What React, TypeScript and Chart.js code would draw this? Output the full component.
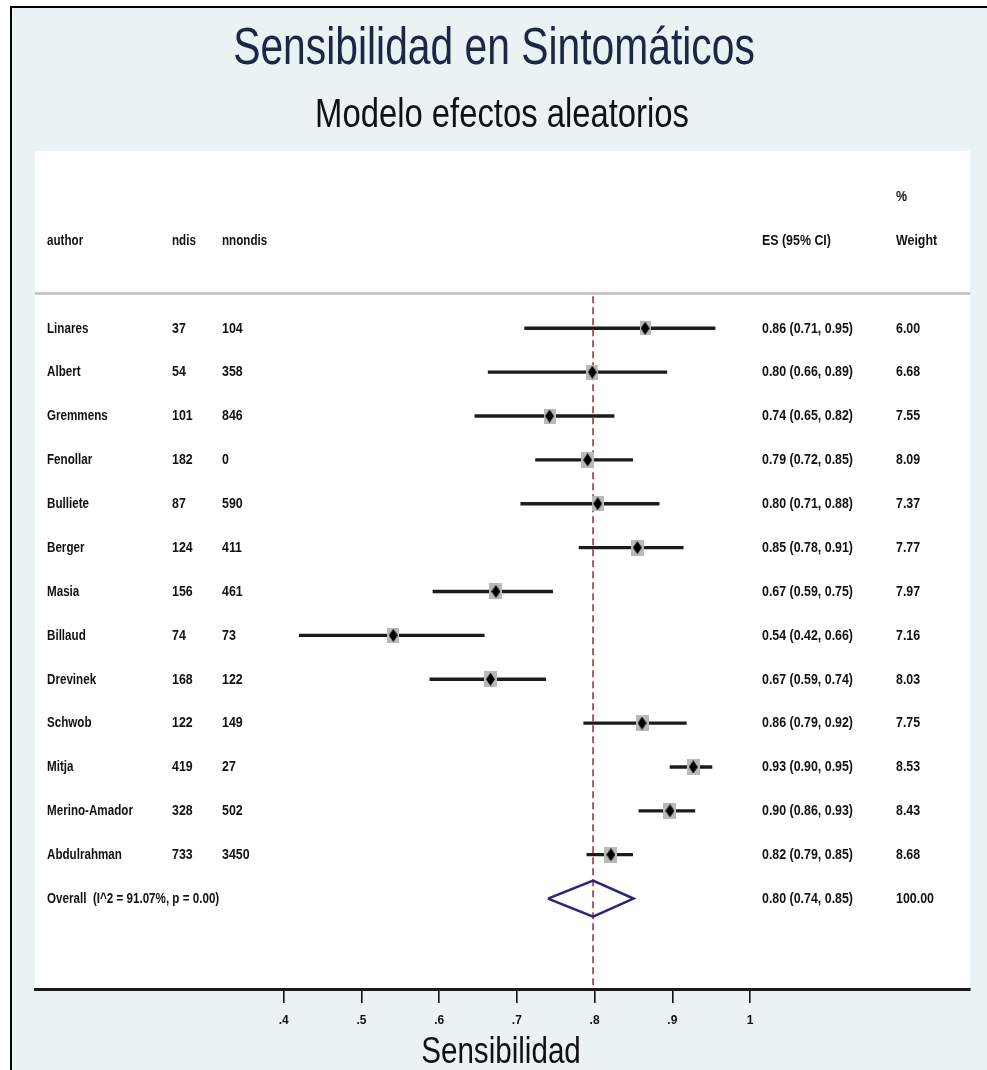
import React, { useEffect, useRef } from 'react';
import { Chart, registerables } from 'chart.js';

Chart.register(...registerables);

// ---------------- data ----------------
const authors = ['Linares', 'Albert', 'Gremmens', 'Fenollar', 'Bulliete', 'Berger', 'Masia', 'Billaud', 'Drevinek', 'Schwob', 'Mitja', 'Merino-Amador', 'Abdulrahman'];
const ndis = [37, 54, 101, 182, 87, 124, 156, 74, 168, 122, 419, 328, 733];
const nnondis = [104, 358, 846, 0, 590, 411, 461, 73, 122, 149, 27, 502, 3450];
const es = [0.865, 0.797, 0.742, 0.791, 0.804, 0.855, 0.673, 0.541, 0.666, 0.861, 0.927, 0.897, 0.821];
const ciLow = [0.71, 0.663, 0.646, 0.724, 0.705, 0.78, 0.592, 0.42, 0.588, 0.786, 0.897, 0.857, 0.79];
const ciHigh = [0.955, 0.893, 0.825, 0.849, 0.883, 0.914, 0.746, 0.658, 0.737, 0.918, 0.951, 0.929, 0.849];
const weights = [6.0, 6.68, 7.55, 8.09, 7.37, 7.77, 7.97, 7.16, 8.03, 7.75, 8.53, 8.43, 8.68];
const esText = ['0.86 (0.71, 0.95)', '0.80 (0.66, 0.89)', '0.74 (0.65, 0.82)', '0.79 (0.72, 0.85)', '0.80 (0.71, 0.88)', '0.85 (0.78, 0.91)', '0.67 (0.59, 0.75)', '0.54 (0.42, 0.66)', '0.67 (0.59, 0.74)', '0.86 (0.79, 0.92)', '0.93 (0.90, 0.95)', '0.90 (0.86, 0.93)', '0.82 (0.79, 0.85)'];
const weightText = ['6.00', '6.68', '7.55', '8.09', '7.37', '7.77', '7.97', '7.16', '8.03', '7.75', '8.53', '8.43', '8.68'];
const overallES = 0.798;
const overallLow = 0.74;
const overallHigh = 0.85;
const overallLabel = 'Overall  (I^2 = 91.07%, p = 0.00)';
const overallESText = '0.80 (0.74, 0.85)';
const overallWeightText = '100.00';
const xTicks = [0.4, 0.5, 0.6, 0.7, 0.8, 0.9, 1];
const xTickLabels = ['.4', '.5', '.6', '.7', '.8', '.9', '1'];
const headerLabels = ['author', 'ndis', 'nnondis', 'ES (95% CI)', 'Weight'];
const titleText = 'Sensibilidad en Sintomáticos';
const subtitleText = 'Modelo efectos aleatorios';
const xTitleText = 'Sensibilidad';

// ---------------- styles ----------------
const FONT = '"Liberation Sans", Arial, Helvetica, sans-serif';
const BG = '#EAF2F3';
const SX = 0.8;

function drawText(ctx: CanvasRenderingContext2D, s: string, x: number, y: number, size: number, o: any = {}) {
  ctx.save();
  ctx.font = `${o.weight || 'normal'} ${size}px ${FONT}`;
  ctx.fillStyle = o.color || '#000';
  ctx.textAlign = o.align || 'left';
  ctx.textBaseline = o.baseline || 'middle';
  ctx.translate(x, y);
  ctx.scale(o.sx || SX, 1);
  ctx.fillText(s, 0, 0);
  ctx.restore();
}

function diamondImg(w: number, h: number, color: string) {
  const c = document.createElement('canvas');
  c.width = w; c.height = h;
  const g = c.getContext('2d')!;
  g.fillStyle = color;
  g.beginPath();
  g.moveTo(w / 2, 0); g.lineTo(w, h / 2); g.lineTo(w / 2, h); g.lineTo(0, h / 2);
  g.closePath(); g.fill();
  return c;
}

function boxImg(w: number, h: number, color: string) {
  const c = document.createElement('canvas');
  c.width = w; c.height = h;
  const g = c.getContext('2d')!;
  g.fillStyle = color;
  g.fillRect(0, 0, w, h);
  return c;
}

const ROW = { size: 15.5, weight: 'bold', sx: 0.75, color: '#111' };
const NUM = { size: 15.5, weight: 'bold', sx: 0.8, color: '#111' };

const framePlugin = {
  id: 'stataFrame',
  beforeDraw(chart: any) {
    const { ctx, width, height, chartArea } = chart;
    ctx.save();
    ctx.fillStyle = '#ffffff';
    ctx.fillRect(0, 0, width, height);
    ctx.fillStyle = BG;
    ctx.fillRect(11, 7, width - 11, height - 7);
    ctx.strokeStyle = '#000';
    ctx.lineWidth = 2;
    ctx.beginPath();
    ctx.moveTo(11, height); ctx.lineTo(11, 7); ctx.lineTo(width, 7);
    ctx.stroke();
    // white plot region
    ctx.fillStyle = '#ffffff';
    ctx.fillRect(chartArea.left, chartArea.top, 970 - chartArea.left, chartArea.bottom - chartArea.top);
    // header separator
    const ys = chart.scales.y.getPixelForValue(-0.79);
    ctx.strokeStyle = '#bdbdbd';
    ctx.lineWidth = 2.5;
    ctx.beginPath();
    ctx.moveTo(chartArea.left, ys); ctx.lineTo(970, ys);
    ctx.stroke();
    ctx.restore();
  },
  afterDraw(chart: any) {
    const { ctx } = chart;
    const y = chart.scales.y;
    // titles
    drawText(ctx, titleText, 494, 64, 51, { align: 'center', baseline: 'alphabetic', color: '#1b2744' });
    drawText(ctx, subtitleText, 502, 127, 41, { align: 'center', baseline: 'alphabetic', color: '#111' });
    drawText(ctx, xTitleText, 501, 1063, 37, { align: 'center', baseline: 'alphabetic', color: '#111' });
    // headers
    const cols = [47, 172, 222, 762, 896];
    const hy = y.getPixelForValue(-2);
    headerLabels.forEach((h, i) => drawText(ctx, h, cols[i], hy, ROW.size, i >= 3 ? NUM : ROW));
    drawText(ctx, '%', cols[4], y.getPixelForValue(-3), ROW.size, NUM);
    // rows
    authors.forEach((a, i) => {
      const py = y.getPixelForValue(i);
      drawText(ctx, a, cols[0], py, ROW.size, ROW);
      drawText(ctx, String(ndis[i]), cols[1], py, NUM.size, NUM);
      drawText(ctx, String(nnondis[i]), cols[2], py, NUM.size, NUM);
      drawText(ctx, esText[i], cols[3], py, NUM.size, NUM);
      drawText(ctx, weightText[i], cols[4], py, NUM.size, NUM);
    });
    const oy = y.getPixelForValue(authors.length);
    drawText(ctx, overallLabel, cols[0], oy, ROW.size, ROW);
    drawText(ctx, overallESText, cols[3], oy, NUM.size, NUM);
    drawText(ctx, overallWeightText, cols[4], oy, NUM.size, NUM);
  },
};

export default function App() {
  const ref = useRef<HTMLCanvasElement | null>(null);

  useEffect(() => {
    document.body.style.margin = '0';
    const canvas = ref.current!;
    const diamond = diamondImg(9, 13, '#000');
    const boxes = weights.map((w) => {
      const bw = Math.round(4.5 * Math.sqrt(w));
      return boxImg(bw, Math.round(bw * 1.25), '#b9b9b9');
    });
    const n = authors.length;
    const dh = 0.41;

    const chart = new Chart(canvas, {
      type: 'scatter',
      data: {
        datasets: [
          {
            type: 'scatter',
            data: es.map((v, i) => ({ x: v, y: i })),
            pointStyle: diamond as any,
            pointRadius: 6,
            order: 0,
          } as any,
          {
            type: 'line',
            data: [
              { x: overallLow, y: n },
              { x: overallES, y: n - dh },
              { x: overallHigh, y: n },
              { x: overallES, y: n + dh },
              { x: overallLow, y: n },
            ],
            borderColor: '#27277d',
            borderWidth: 2.6,
            borderJoinStyle: 'miter',
            pointRadius: 0,
            fill: false,
            tension: 0,
            order: 0,
          } as any,
          {
            type: 'scatter',
            data: es.map((v, i) => ({ x: v, y: i })),
            pointStyle: boxes as any,
            pointRadius: 6,
            order: 1,
          } as any,
          {
            type: 'line',
            data: [
              { x: overallES, y: -0.73 },
              { x: overallES, y: 15.1 },
            ],
            borderColor: '#a8323e',
            borderWidth: 1.6,
            borderDash: [7, 4],
            pointRadius: 0,
            fill: false,
            order: 2,
          } as any,
          {
            type: 'bar',
            indexAxis: 'y',
            data: ciLow.map((l, i) => ({ x: [l, ciHigh[i]], y: i })),
            backgroundColor: '#1c1c1c',
            borderWidth: 0,
            barThickness: 2.6,
            order: 3,
          } as any,
        ],
      },
      options: {
        responsive: false,
        animation: false,
        devicePixelRatio: 1,
        events: [],
        layout: { padding: { left: 35, right: 17, top: 151, bottom: 0 } },
        plugins: { legend: { display: false }, tooltip: { enabled: false } },
        scales: {
          x: {
            type: 'linear',
            min: 0.08,
            max: 1.283,
            offset: false,
            afterBuildTicks: (s: any) => {
              s.ticks = xTicks.map((v) => ({ value: v }));
            },
            afterFit: (s: any) => {
              s.height = 81;
            },
            ticks: {
              callback: (v: any) => xTickLabels[xTicks.indexOf(Number(v))] ?? '',
              font: { family: FONT, size: 12, weight: 'bold' },
              color: '#111',
              padding: 10,
              maxRotation: 0,
              autoSkip: false,
            },
            grid: { drawOnChartArea: false, drawTicks: true, tickLength: 14, color: '#111', lineWidth: 1.6, offset: false },
            border: { display: true, color: '#1a1a1a', width: 3 },
          },
          y: {
            type: 'linear',
            min: -4.04,
            max: 15.06,
            reverse: true,
            offset: false,
            grid: { offset: false },
            display: false,
          },
        },
      },
      plugins: [framePlugin],
    } as any);
    return () => chart.destroy();
  }, []);

  return (
    <div style={{ width: 987, height: 1070 }}>
      <canvas ref={ref} width={987} height={1070} style={{ display: 'block' }} />
    </div>
  );
}
